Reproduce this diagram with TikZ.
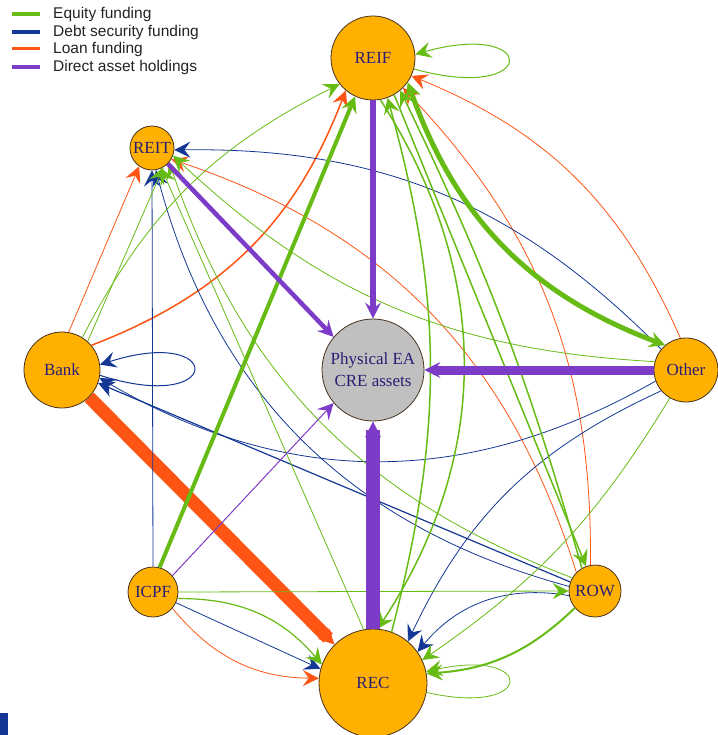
\documentclass[tikz,border=0pt]{standalone}
\usepackage{fontspec}
\setmainfont{Liberation Serif}
\newfontfamily\legendfont{Liberation Sans}
\usetikzlibrary{positioning,arrows.meta}

\definecolor{eqgreen}{RGB}{102,187,20}
\definecolor{debtblue}{RGB}{20,55,150}
\definecolor{loanorange}{RGB}{255,85,20}
\definecolor{assetpurple}{RGB}{125,60,200}
\definecolor{hubfill}{RGB}{255,176,0}
\definecolor{physfill}{RGB}{192,192,192}
\definecolor{hubline}{RGB}{70,50,30}
\definecolor{hubtext}{RGB}{40,30,115}
\definecolor{legendgray}{RGB}{34,34,34}

\begin{document}
\begin{tikzpicture}[x=1pt, y=-1pt, >={Stealth[length=16pt, width=16pt, inset=6pt]},
    hub/.style={draw=hubline, line width=0.8pt, fill=hubfill, circle, inner sep=0pt, text=hubtext, font=\fontsize{17}{22}\selectfont, align=center},
    eq/.style={->, draw=eqgreen},
    debt/.style={->, draw=debtblue},
    loan/.style={->, draw=loanorange},
    asset/.style={->, draw=assetpurple},
    legendtext/.style={font=\legendfont\fontsize{15.5}{17}\selectfont, text=legendgray, inner sep=0pt}]
    \useasboundingbox (0,0) rectangle (717,735);

    \coordinate (eqa) at (12,14);
    \coordinate (eqb) at (40,14);
    \coordinate (debta) at (12,32);
    \coordinate (debtb) at (40,32);
    \coordinate (loana) at (12,49);
    \coordinate (loanb) at (40,49);
    \coordinate (asseta) at (12,67);
    \coordinate (assetb) at (40,67);

    \draw [eqgreen, line width=4pt] (eqa) -- (eqb);
    \draw [debtblue, line width=4pt] (debta) -- (debtb);
    \draw [loanorange, line width=3pt] (loana) -- (loanb);
    \draw [assetpurple, line width=4pt] (asseta) -- (assetb);

    \node [legendtext, right=13pt of eqb] (eqlabel) {Equity funding};
    \node [legendtext, right=13pt of debtb] (debtlabel) {Debt security funding};
    \node [legendtext, right=13pt of loanb] (loanlabel) {Loan funding};
    \node [legendtext, right=13pt of assetb] (assetlabel) {Direct asset holdings};

    \node [hub, minimum size=84pt] (reif) at (373,58) {REIF};
    \node [hub, minimum size=44pt] (reit) at (152,148) {REIT};
    \node [hub, minimum size=76pt] (bank) at (62,370) {Bank};
    \node [hub, fill=physfill, minimum size=102pt] (phys) at (373,370) {Physical EA\\CRE assets};
    \node [hub, minimum size=64pt] (other) at (686,370) {Other};
    \node [hub, minimum size=50pt] (icpf) at (153,592) {ICPF};
    \node [hub, minimum size=52pt] (row) at (595,591) {ROW};
    \node [hub, minimum size=108pt] (rec) at (373,683) {REC};

    \draw [loan, line width=13pt] (bank.-45) -- (rec.135);
    \draw [loan, line width=1.5pt] (bank.40) to [bend right=24] (reif.230);
    \draw [loan, line width=0.8pt] (bank.80) -- (reit.-125);
    \draw [loan, line width=0.8pt] (icpf.-40) to [bend right=25] (rec.175);
    \draw [loan, line width=0.8pt] (other.100) to [bend right=22] (reif.-25);
    \draw [loan, line width=0.8pt] (row.100) to [bend right=22] (reif.-45);
    \draw [loan, line width=0.8pt] (row.135) to [bend right=27] (reit.-30);

    \draw [debt, line width=1pt] (bank.-8) .. controls +(125,40) and +(125,-40) .. (bank.8);
    \draw [debt, line width=0.8pt] (icpf.north) -- (reit.south);
    \draw [debt, line width=0.8pt] (other.140) to [bend right=23] (reit.-5);
    \draw [debt, line width=1.2pt] (row.160) -- (bank.-20);
    \draw [debt, line width=0.8pt] (other.-160) to [bend left=30] (bank.-12);
    \draw [debt, line width=0.8pt] (row.170) to [bend left=30] (reit.-80);
    \draw [debt, line width=0.8pt] (other.-140) to [bend right=20] (rec.50);
    \draw [debt, line width=0.8pt] (row.-170) to [bend right=30] (rec.35);
    \draw [debt, line width=0.8pt] (icpf.-25) -- (rec.165);

    \draw [eq, line width=1pt] (reif.-15) .. controls +(125,35) and +(125,-35) .. (reif.5);
    \draw [eq, line width=0.8pt] (bank.58) to [bend left=18] (reif.218);
    \draw [eq, line width=4pt] (icpf.75) -- (reif.245);
    \draw [eq, line width=0.8pt] (bank.48) -- (reit.-60);
    \draw [eq, <->, line width=5pt] (other.130) to [bend left=25] (reif.-35);
    \draw [eq, line width=0.8pt] (other.165) to [bend left=20] (reit.-20);
    \draw [eq, line width=1.5pt] (reif.-60) -- (row.110);
    \draw [eq, line width=1.5pt] (row.120) to [bend right=5] (reif.-50);
    \draw [eq, line width=1.5pt] (reif.-80) to [bend left=33] (rec.85);
    \draw [eq, line width=1.5pt] (rec.70) to [bend right=15] (reif.-70);
    \draw [eq, line width=0.8pt] (other.-120) to [bend left=12] (rec.25);
    \draw [eq, line width=0.8pt] (icpf.east) -- (row.west);
    \draw [eq, line width=1.2pt] (icpf.-15) to [bend left=25] (rec.160);
    \draw [eq, line width=2pt] (row.-140) to [bend left=20] (rec.10);
    \draw [eq, line width=0.8pt] (rec.-10) .. controls +(110,25) and +(110,-25) .. (rec.12);
    \draw [eq, line width=0.8pt] (rec.100) -- (reit.-65);
    \draw [eq, line width=0.8pt] (row.150) to [bend left=25] (reit.-40);

    \draw [asset, line width=6pt] (reif) -- (phys);
    \draw [asset, line width=4.5pt] (reit.-45) -- (phys.140);
    \draw [asset, line width=9pt] (other) -- (phys);
    \draw [asset, line width=1pt] (icpf.40) -- (phys.-140);
    \draw [asset, line width=14pt] (rec) -- (phys);

    \fill [debtblue] (0,713) rectangle (8,735);
\end{tikzpicture}
\end{document}
